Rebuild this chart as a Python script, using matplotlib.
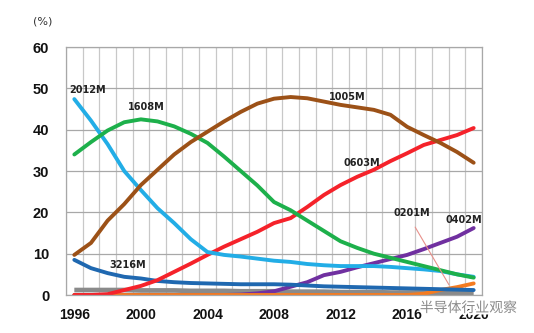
import numpy as np
import matplotlib.pyplot as plt
import matplotlib.patheffects as pe

years = list(range(1996, 2021))

# share of MLCC shipments by case size, %
s2012 = [47.4, 42.2, 36.5, 30.0, 25.4, 21.0, 17.4, 13.5, 10.4, 9.7, 9.3, 8.8, 8.3,
         8.0, 7.5, 7.2, 7.0, 7.0, 7.0, 6.8, 6.5, 6.2, 5.8, 5.0, 4.4]
s1608 = [34.0, 37.0, 39.8, 41.8, 42.5, 42.0, 40.8, 39.0, 36.8, 33.5, 30.0, 26.5, 22.5,
         20.5, 18.0, 15.5, 13.0, 11.4, 10.0, 9.0, 8.0, 7.0, 6.0, 5.0, 4.2]
s1005 = [9.7, 12.6, 18.0, 22.0, 26.6, 30.3, 34.0, 37.0, 39.5, 42.0, 44.3, 46.3, 47.5,
         47.9, 47.6, 46.8, 46.0, 45.4, 44.8, 43.6, 40.7, 38.7, 36.8, 34.6, 32.0]
s0603 = [0.0, 0.0, 0.2, 1.2, 2.2, 3.6, 5.6, 7.6, 9.7, 11.7, 13.5, 15.3, 17.4,
         18.6, 21.3, 24.2, 26.6, 28.6, 30.3, 32.4, 34.3, 36.3, 37.5, 38.7, 40.4]
s3216 = [8.5, 6.5, 5.3, 4.4, 4.0, 3.4, 3.1, 2.9, 2.8, 2.7, 2.6, 2.6, 2.6,
         2.5, 2.3, 2.1, 2.0, 1.9, 1.8, 1.7, 1.6, 1.5, 1.4, 1.3, 1.2]
sother = [1.2, 1.2, 1.2, 1.2, 1.1, 1.1, 1.1, 1.0, 1.0, 1.0, 0.9, 0.9, 0.9,
          0.8, 0.8, 0.8, 0.7, 0.7, 0.7, 0.6, 0.6, 0.6, 0.5, 0.5, 0.5]
s0402 = [0.0, 0.0, 0.0, 0.0, 0.0, 0.0, 0.0, 0.0, 0.0, 0.0, 0.1, 0.4, 0.9,
         2.0, 3.1, 4.8, 5.6, 6.7, 7.7, 8.7, 9.7, 11.1, 12.6, 14.1, 16.2]
s0201 = [0.0, 0.0, 0.0, 0.0, 0.0, 0.0, 0.0, 0.0, 0.0, 0.0, 0.0, 0.0, 0.0,
         0.0, 0.0, 0.0, 0.0, 0.0, 0.0, 0.0, 0.0, 0.3, 1.2, 1.9, 2.8]

fig = plt.figure(figsize=(5.34, 3.33), dpi=100)
ax = fig.add_axes([0.1236, 0.1141, 0.779, 0.7447])

lw = 2.8
sty = dict(lw=lw, solid_joinstyle='round', solid_capstyle='round')
ax.plot(years, sother, color='#8a8a8a', lw=3.4, solid_capstyle='butt')
ax.plot(years, s0402, color='#7030a0', **sty)
ax.plot(years, s0201, color='#f47b20', **sty)
ax.plot(years, s3216, color='#1f68b0', **sty)
ax.plot(years, s0603, color='#f5222a', **sty)
ax.plot(years, s2012, color='#22ade6', **sty)
ax.plot(years, s1608, color='#1db04b', **sty)
ax.plot(years, s1005, color='#9c5117', **sty)

lab = dict(fontsize=7, fontweight='bold', color='#222222', va='center', ha='left')
ax.text(1995.7, 49.6, '2012M', **lab)
ax.text(1999.2, 45.5, '1608M', **lab)
ax.text(2011.3, 48.0, '1005M', **lab)
ax.text(2012.2, 32.0, '0603M', **lab)
ax.text(1998.1, 7.3, '3216M', **lab)
ax.text(2015.2, 19.9, '0201M', **lab)
ax.text(2018.3, 18.2, '0402M', **lab)
ax.annotate('', xy=(2018.6, 1.9), xytext=(2016.4, 17.0),
            arrowprops=dict(arrowstyle='-', color='#e8908a', lw=0.8))

ax.set_xlim(1995.5, 2020.5)
ax.set_ylim(0, 60)
ax.set_xticks(np.arange(1995.5, 2021, 1), minor=True)
ax.set_xticks(range(1996, 2021, 4))
ax.set_yticks(range(0, 61, 10))
ax.grid(which='minor', axis='x', color='#c8c8c8', lw=0.9)
ax.grid(which='major', axis='y', color='#a8a8a8', lw=0.9)
ax.set_axisbelow(True)
ax.tick_params(which='both', length=0)
ax.tick_params(axis='x', pad=9)
ax.tick_params(axis='y', pad=12)
for t in ax.get_xticklabels() + ax.get_yticklabels():
    t.set_fontfamily('Liberation Sans')
    t.set_fontweight('bold')
    t.set_color('#111111')
for t in ax.get_xticklabels():
    t.set_fontsize(10)
for t in ax.get_yticklabels():
    t.set_fontsize(10.5)
for sp in ax.spines.values():
    sp.set_color('#a8a8a8')
    sp.set_linewidth(0.9)

fig.text(0.062, 0.935, '(%)', fontsize=8, color='#333333', ha='left', va='center')

# account watermark in the bottom-right corner
wm = fig.text(0.968, 0.075, '半导体行业观察', fontsize=10, color='#8a8a8a',
              ha='right', va='center', family=['Noto Sans CJK SC', 'DejaVu Sans'])
wm.set_path_effects([pe.withStroke(linewidth=3, foreground='white')])

fig.savefig('out.png', dpi=100)
